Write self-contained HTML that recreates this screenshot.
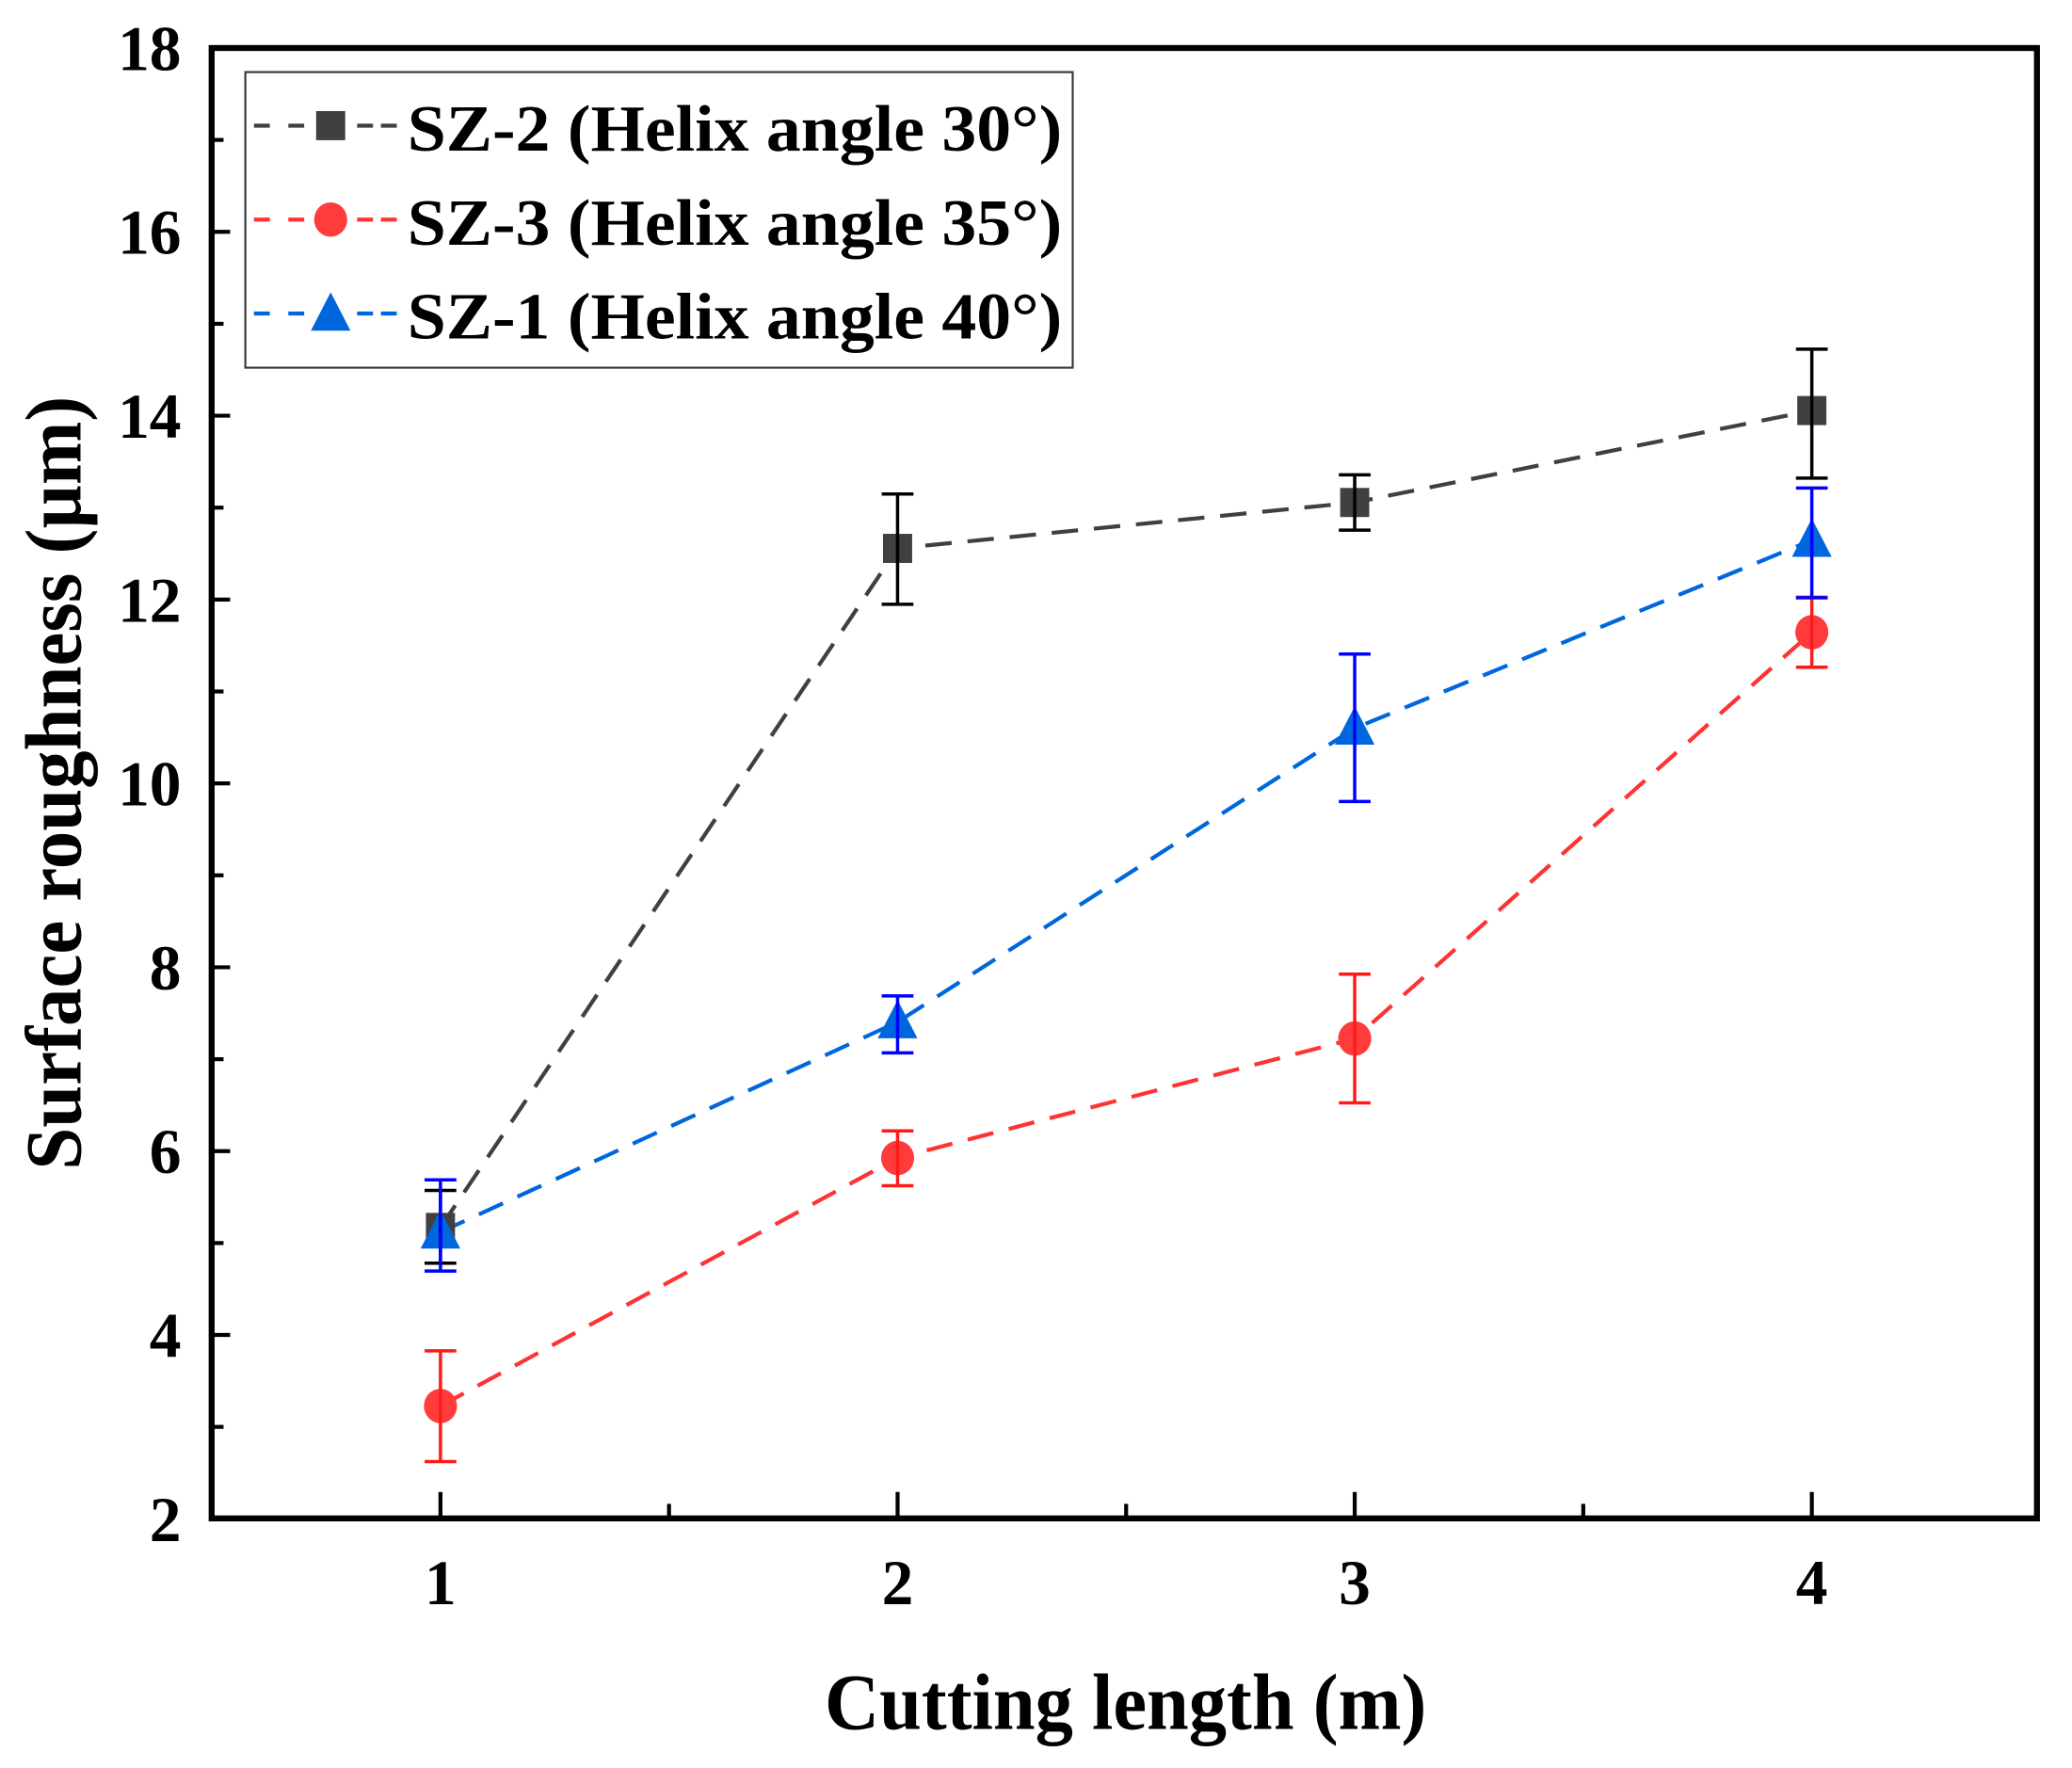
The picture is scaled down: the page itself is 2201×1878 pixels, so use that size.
<!DOCTYPE html>
<html><head><meta charset="utf-8"><style>
html,body{margin:0;padding:0;background:#fff;}
svg{display:block;}
text{font-family:"Liberation Serif",serif;font-weight:bold;fill:#000;}
</style></head><body>
<svg width="2201" height="1878" viewBox="0 0 1566.5 1336.7" preserveAspectRatio="none" xmlns="http://www.w3.org/2000/svg">
<rect width="1566.5" height="1336.7" fill="#fff"/>
<g stroke="#000" stroke-width="3">
<line x1="160" y1="36.3" x2="174" y2="36.3"/>
<line x1="160" y1="105.8" x2="169" y2="105.8"/>
<line x1="160" y1="175.3" x2="174" y2="175.3"/>
<line x1="160" y1="244.8" x2="169" y2="244.8"/>
<line x1="160" y1="314.3" x2="174" y2="314.3"/>
<line x1="160" y1="383.8" x2="169" y2="383.8"/>
<line x1="160" y1="453.3" x2="174" y2="453.3"/>
<line x1="160" y1="522.8" x2="169" y2="522.8"/>
<line x1="160" y1="592.3" x2="174" y2="592.3"/>
<line x1="160" y1="661.8" x2="169" y2="661.8"/>
<line x1="160" y1="731.3" x2="174" y2="731.3"/>
<line x1="160" y1="800.8" x2="169" y2="800.8"/>
<line x1="160" y1="870.3" x2="174" y2="870.3"/>
<line x1="160" y1="939.8" x2="169" y2="939.8"/>
<line x1="160" y1="1009.3" x2="174" y2="1009.3"/>
<line x1="160" y1="1078.8" x2="169" y2="1078.8"/>
<line x1="333" y1="1148" x2="333" y2="1128"/>
<line x1="505.8" y1="1148" x2="505.8" y2="1137"/>
<line x1="678.6" y1="1148" x2="678.6" y2="1128"/>
<line x1="851.4" y1="1148" x2="851.4" y2="1137"/>
<line x1="1024.2" y1="1148" x2="1024.2" y2="1128"/>
<line x1="1197" y1="1148" x2="1197" y2="1137"/>
<line x1="1369.8" y1="1148" x2="1369.8" y2="1128"/>
</g>
<g fill="none" stroke-width="3" stroke-dasharray="20,12">
<polyline stroke="#404040" points="333,928 678.6,414.6 1024.2,379.9 1369.8,310.4"/>
<polyline stroke="#ff3333" points="333,1063 678.6,875.5 1024.2,785.2 1369.8,478"/>
<polyline stroke="#0066dd" points="333,931.5 678.6,772.7 1024.2,550.6 1369.8,408.4"/>
</g>
<g fill="#404040">
<rect x="322" y="917" width="22" height="22"/>
<rect x="667.6" y="403.6" width="22" height="22"/>
<rect x="1013.2" y="368.9" width="22" height="22"/>
<rect x="1358.8" y="299.4" width="22" height="22"/>
</g>
<g fill="#ff3b3b">
<ellipse cx="333" cy="1063" rx="12.5" ry="13"/>
<ellipse cx="678.6" cy="875.5" rx="12.5" ry="13"/>
<ellipse cx="1024.2" cy="785.2" rx="12.5" ry="13"/>
<ellipse cx="1369.8" cy="478" rx="12.5" ry="13"/>
</g>
<g fill="#0066dd">
<polygon points="333,915 318,944 348,944"/>
<polygon points="678.6,756 663.6,785 693.6,785"/>
<polygon points="1024.2,534 1009.2,563 1039.2,563"/>
<polygon points="1369.8,392 1354.8,421 1384.8,421"/>
</g>
<g stroke="#000" stroke-width="2.5" fill="none">
<path d="M333,900 V955 M321,900 H345 M321,955 H345"/>
<path d="M678.6,373.5 V456.9 M666.6,373.5 H690.6 M666.6,456.9 H690.6"/>
<path d="M1024.2,359 V400.8 M1012.2,359 H1036.2 M1012.2,400.8 H1036.2"/>
<path d="M1369.8,264 V361.5 M1357.8,264 H1381.8 M1357.8,361.5 H1381.8"/>
</g>
<g stroke="#ff1a1a" stroke-width="2.5" fill="none">
<path d="M333,1021.3 V1105 M321,1021.3 H345 M321,1105 H345"/>
<path d="M678.6,855 V896.5 M666.6,855 H690.6 M666.6,896.5 H690.6"/>
<path d="M1024.2,736.5 V833.8 M1012.2,736.5 H1036.2 M1012.2,833.8 H1036.2"/>
<path d="M1369.8,451.5 V504.5 M1357.8,451.5 H1381.8 M1357.8,504.5 H1381.8"/>
</g>
<g stroke="#0000ff" stroke-width="2.5" fill="none">
<path d="M333,892 V961 M321,892 H345 M321,961 H345"/>
<path d="M678.6,753 V796 M666.6,753 H690.6 M666.6,796 H690.6"/>
<path d="M1024.2,494.5 V606 M1012.2,494.5 H1036.2 M1012.2,606 H1036.2"/>
<path d="M1369.8,369 V452 M1357.8,369 H1381.8 M1357.8,452 H1381.8"/>
</g>
<rect x="160" y="36.3" width="1380" height="1111.7" fill="none" stroke="#000" stroke-width="4.5"/>
<rect x="185.5" y="54.5" width="625.5" height="223.5" fill="#fff" stroke="#333" stroke-width="1.5"/>
<g stroke-width="3">
<path d="M192,95 H204 M218,95 H230 M270,95 H282 M288,95 H300" stroke="#404040"/>
<path d="M192,166 H204 M218,166 H230 M270,166 H282 M288,166 H300" stroke="#ff3333"/>
<path d="M192,237 H204 M218,237 H230 M270,237 H282 M288,237 H300" stroke="#0066dd"/>
</g>
<rect x="239" y="84" width="22" height="22" fill="#404040"/>
<ellipse cx="250" cy="166" rx="12.5" ry="13" fill="#ff3b3b"/>
<polygon points="250,221 235,250 265,250" fill="#0066dd"/>
<g font-size="50">
<text x="308" y="114" textLength="495" lengthAdjust="spacingAndGlyphs">SZ-2 (Helix angle 30°)</text>
<text x="308" y="185" textLength="495" lengthAdjust="spacingAndGlyphs">SZ-3 (Helix angle 35°)</text>
<text x="308" y="256" textLength="495" lengthAdjust="spacingAndGlyphs">SZ-1 (Helix angle 40°)</text>
</g>
<g font-size="48" text-anchor="end">
<text x="137" y="53">18</text>
<text x="137" y="192">16</text>
<text x="137" y="331">14</text>
<text x="137" y="470">12</text>
<text x="137" y="609">10</text>
<text x="137" y="748">8</text>
<text x="137" y="887">6</text>
<text x="137" y="1026">4</text>
<text x="137" y="1165">2</text>
</g>
<g font-size="48" text-anchor="middle">
<text x="333" y="1213">1</text>
<text x="678.6" y="1213">2</text>
<text x="1024.2" y="1213">3</text>
<text x="1369.8" y="1213">4</text>
</g>
<text x="851" y="1307" font-size="60" text-anchor="middle" textLength="455" lengthAdjust="spacingAndGlyphs">Cutting length (m)</text>
<text transform="translate(61,592) rotate(-90)" font-size="60" text-anchor="middle" textLength="585" lengthAdjust="spacingAndGlyphs">Surface roughness (µm)</text>
</svg>
</body></html>
